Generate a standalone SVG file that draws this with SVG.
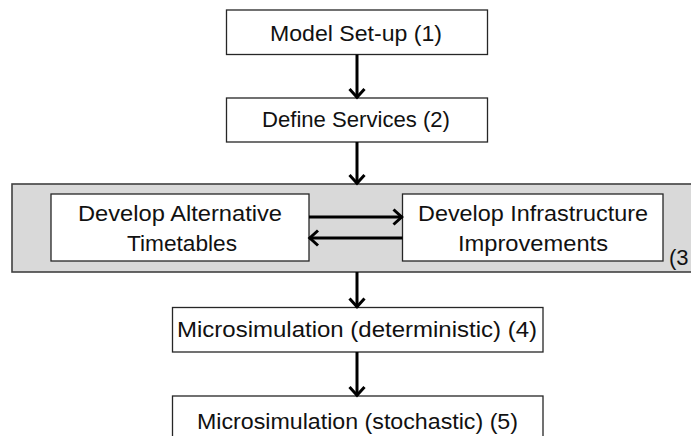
<svg xmlns="http://www.w3.org/2000/svg" width="691" height="436" viewBox="0 0 691 436">
<style>
.box{fill:#fff;stroke:#262626;stroke-width:1.3}
.grp{fill:#d9d9d9;stroke:#404040;stroke-width:1.6}
.t{font-family:"Liberation Sans",Arial,sans-serif;font-size:22px;fill:#111;text-anchor:middle}
.c{stroke:#000;stroke-width:3;fill:none}
</style>
<defs>
<marker id="arr" markerUnits="userSpaceOnUse" viewBox="-12 -10 14 20" markerWidth="14" markerHeight="20" refX="0" refY="0" orient="auto">
<path d="M-9,-7.5 L-0.8,0 L-9,7.5" fill="none" stroke="#000" stroke-width="3" stroke-linejoin="miter"/>
</marker>
</defs>
<rect width="691" height="436" fill="#fff"/>
<g id="group3">
<rect class="grp" x="12" y="184" width="690" height="88"/>
<text class="t" x="669" y="265" style="text-anchor:start">(3</text>
</g>
<g id="n1">
<rect class="box" x="226.5" y="10" width="261" height="44.5"/>
<text class="t" x="356" y="41" textLength="172" lengthAdjust="spacingAndGlyphs">Model Set-up (1)</text>
</g>
<g id="n2">
<rect class="box" x="226.5" y="98" width="261" height="44"/>
<text class="t" x="356" y="127" textLength="188" lengthAdjust="spacingAndGlyphs">Define Services (2)</text>
</g>
<g id="n3a">
<rect class="box" x="51" y="194" width="258" height="67"/>
<text class="t" x="180" y="221" textLength="204" lengthAdjust="spacingAndGlyphs">Develop Alternative</text>
<text class="t" x="182" y="251" textLength="110" lengthAdjust="spacingAndGlyphs">Timetables</text>
</g>
<g id="n3b">
<rect class="box" x="402.5" y="194" width="260.5" height="67"/>
<text class="t" x="533" y="221" textLength="230" lengthAdjust="spacingAndGlyphs">Develop Infrastructure</text>
<text class="t" x="533" y="251" textLength="150" lengthAdjust="spacingAndGlyphs">Improvements</text>
</g>
<g id="n4">
<rect class="box" x="172.5" y="307.5" width="370.5" height="44.5"/>
<text class="t" x="357" y="337" textLength="360" lengthAdjust="spacingAndGlyphs">Microsimulation (deterministic) (4)</text>
</g>
<g id="n5">
<rect class="box" x="172.5" y="396" width="370.5" height="60"/>
<text class="t" x="357.5" y="429" textLength="321" lengthAdjust="spacingAndGlyphs">Microsimulation (stochastic) (5)</text>
</g>
<g id="connectors">
<line class="c" x1="357" y1="54.5" x2="357" y2="98" marker-end="url(#arr)"/>
<line class="c" x1="357" y1="142" x2="357" y2="184" marker-end="url(#arr)"/>
<line class="c" x1="357" y1="272" x2="357" y2="307.5" marker-end="url(#arr)"/>
<line class="c" x1="357" y1="352" x2="357" y2="396" marker-end="url(#arr)"/>
<line class="c" x1="309" y1="217" x2="402.5" y2="217" marker-end="url(#arr)"/>
<line class="c" x1="402.5" y1="238" x2="309" y2="238" marker-end="url(#arr)"/>
</g>
</svg>
